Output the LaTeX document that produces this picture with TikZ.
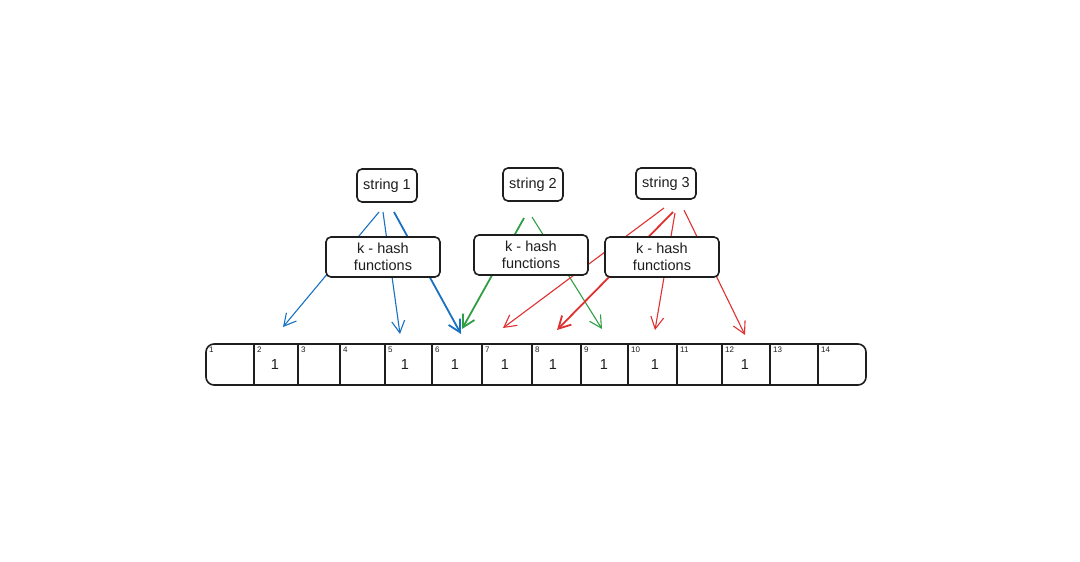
\documentclass[tikz,border=0pt]{standalone}
\usepackage{fontspec}
\setmainfont{Liberation Sans}
\usetikzlibrary{arrows.meta}
\definecolor{ink}{HTML}{1E1E1E}
\definecolor{eblue}{HTML}{1971C2}
\definecolor{egreen}{HTML}{2F9E44}
\definecolor{ered}{HTML}{E03131}
\begin{document}
\begin{tikzpicture}[x=1pt,y=-1pt,
  box/.style={draw=ink,line width=1.6pt,rounded corners=5pt,fill=white,inner sep=0pt,align=center,text=ink,font=\fontsize{14.5}{17}\selectfont},
  arrowline/.style={line width=1.1pt,-{Straight Barb[length=12pt,width=13pt,line width=1.1pt]}},
  thickline/.style={line width=1.8pt,-{Straight Barb[length=12pt,width=13pt,line width=1.8pt]}},
  idx/.style={font=\fontsize{8}{9}\selectfont,text=ink,anchor=north west,inner sep=0pt},
  bit/.style={font=\fontsize{14.5}{15}\selectfont,text=ink,inner sep=0pt},
  divider/.style={draw=ink,line width=1.5pt}]
\useasboundingbox[fill=white] (0,0) rectangle (1080,562);

% connector end points
\coordinate (b1s) at (379,212); \coordinate (b1e) at (283,327);
\coordinate (b2s) at (383,212); \coordinate (b2e) at (400,334);
\coordinate (b3s) at (394,212); \coordinate (b3e) at (461,334);
\coordinate (g1s) at (524,218); \coordinate (g1e) at (462,329);
\coordinate (g2s) at (532,217); \coordinate (g2e) at (602,329);
\coordinate (r1s) at (664,208); \coordinate (r1e) at (503,328);
\coordinate (r2s) at (673,212); \coordinate (r2e) at (557,330);
\coordinate (r3s) at (675,213); \coordinate (r3e) at (655,330);
\coordinate (r4s) at (684,210); \coordinate (r4e) at (745,335);

% arrows (behind the hash boxes)
\draw[arrowline,eblue] (b1s) -- (b1e);
\draw[arrowline,eblue] (b2s) -- (b2e);
\draw[thickline,eblue] (b3s) -- (b3e);
\draw[thickline,egreen] (g1s) -- (g1e);
\draw[arrowline,egreen] (g2s) -- (g2e);
\draw[arrowline,ered] (r1s) -- (r1e);
\draw[thickline,ered] (r2s) -- (r2e);
\draw[arrowline,ered] (r3s) -- (r3e);
\draw[arrowline,ered] (r4s) -- (r4e);

% string boxes
\node[box,minimum width=60pt,minimum height=33pt] (s1) at (387,185.5) {string 1};
\node[box,minimum width=60pt,minimum height=33pt] (s2) at (533,184.5) {string 2};
\node[box,minimum width=60pt,minimum height=31pt] (s3) at (666,183.5) {string 3};

% hash boxes
\node[box,minimum width=114pt,minimum height=40pt] (h1) at (383,257) {k - hash\\functions};
\node[box,minimum width=114pt,minimum height=40pt] (h2) at (531,255) {k - hash\\functions};
\node[box,minimum width=114pt,minimum height=40pt] (h3) at (662,257) {k - hash\\functions};

% bit array
\node[draw=ink,line width=1.6pt,rounded corners=8pt,minimum width=660pt,minimum height=41pt,inner sep=0pt] (array) at (536,364.5) {};
\foreach \x in {254,298,340,385,432,482,532,581,628,677,722,770,818}
  \draw[divider] (\x,344) -- (\x,385);

% cell indices
\foreach \x/\n in {206/1,254/2,298/3,340/4,385/5,432/6,482/7,532/8,581/9,628/10,677/11,722/12,770/13,818/14}
  \node[idx] (i\n) at (\x+3,346.5) {\n};

% set bits
\foreach \x/\n in {275/2,405/5,455/6,505/7,553/8,604/9,655/10,745/12}
  \node[bit] (v\n) at (\x,365) {1};
\end{tikzpicture}
\end{document}
